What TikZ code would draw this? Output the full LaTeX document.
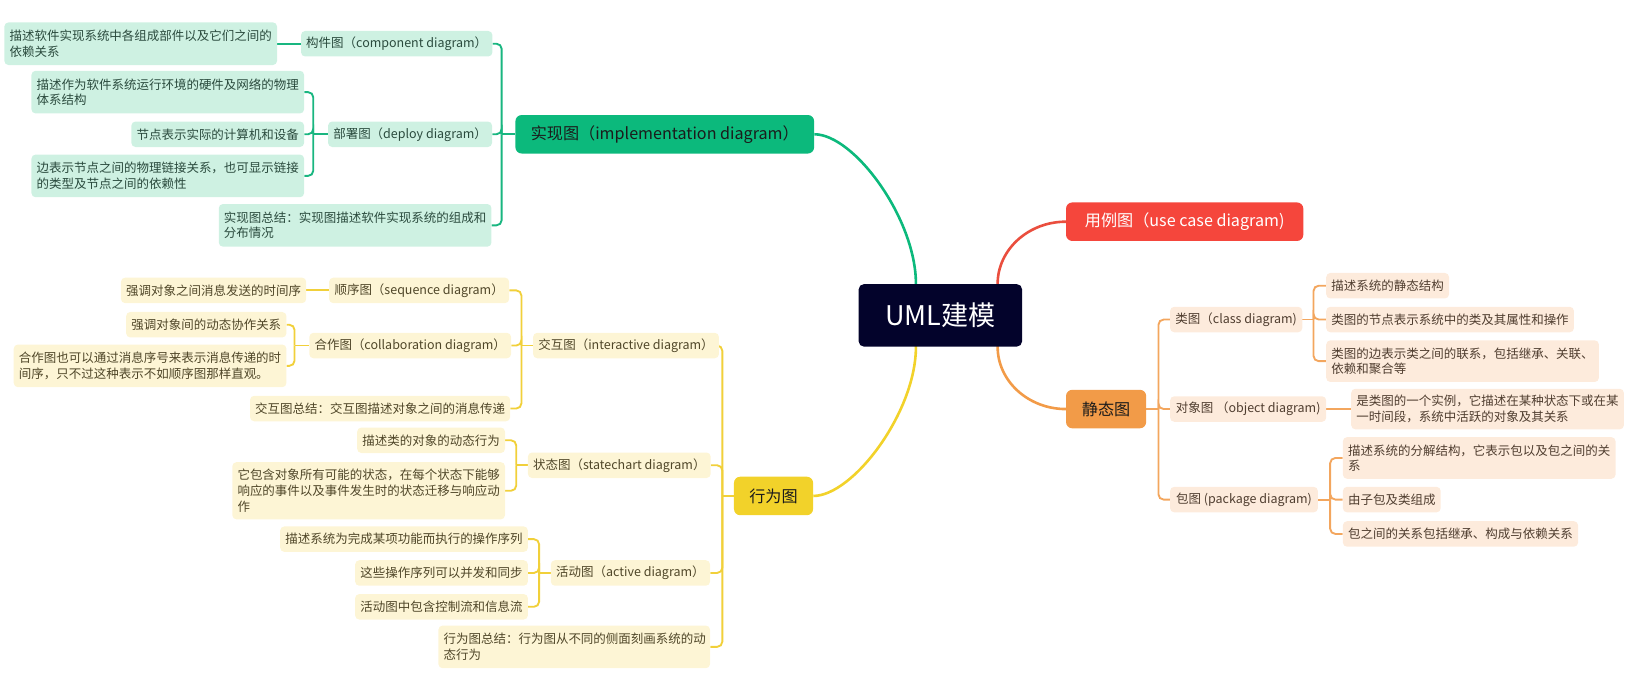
\documentclass[tikz,border=0pt]{standalone}
\usepackage{fontspec}
\setmainfont{Noto Sans CJK SC}
\usetikzlibrary{calc}
\pgfdeclarelayer{bg}
\pgfsetlayers{bg,main}
\definecolor{rootc}{HTML}{03032B}
\definecolor{dk}{HTML}{1B1B1B}
\definecolor{gmain}{HTML}{0CB97C}
\definecolor{gline}{HTML}{19B680}
\definecolor{gfill}{HTML}{CEF1E2}
\definecolor{gtext}{HTML}{2A4A3D}
\definecolor{rmain}{HTML}{F5463C}
\definecolor{rline}{HTML}{EA4E3E}
\definecolor{omain}{HTML}{F29B48}
\definecolor{oline}{HTML}{F3A65E}
\definecolor{ofill}{HTML}{FDEBDC}
\definecolor{otext}{HTML}{4F3D2F}
\definecolor{ymain}{HTML}{F2D22A}
\definecolor{yline}{HTML}{F1D03A}
\definecolor{yfill}{HTML}{FDF5D5}
\definecolor{ytext}{HTML}{4F4628}
\newcommand\fsc{\fontsize{12}{15}\selectfont}
\newcommand\fsm{\fontsize{15.5}{18}\selectfont}
\newcommand\fsr{\fontsize{26}{30}\selectfont}
\begin{document}
\begin{tikzpicture}[x=1pt,y=-1pt,
  kid/.style={rounded corners=4pt, inner xsep=5pt, inner ysep=0pt, minimum height=24.5pt, anchor=west, font=\fsc},
  gk/.style={kid, fill=gfill, text=gtext},
  yk/.style={kid, fill=yfill, text=ytext},
  ok/.style={kid, fill=ofill, text=otext},
  wide/.style={text width=#1, align=left},
  mainbox/.style={rounded corners=6pt, inner sep=0pt, minimum height=37pt, font=\fsm, anchor=west},
  gl/.style={draw=gline, line width=1.8pt, rounded corners=5pt},
  yl/.style={draw=yline, line width=1.8pt, rounded corners=5pt},
  ol/.style={draw=oline, line width=1.8pt, rounded corners=5pt},
  curve/.style={line width=2.5pt}
]
\useasboundingbox (0,0) rectangle (1568,665);

% root
\node[fill=rootc, text=white, font=\fsr, rounded corners=5pt, minimum width=157pt, minimum height=60pt, inner sep=0pt] (root) at (903.5,303) {UML建模};

% level 1
\node[mainbox, fill=gmain, text=dk, minimum width=287pt] (impl) at (495,129) {实现图（implementation diagram）};
\node[mainbox, fill=rmain, text=white, minimum width=228pt] (uc) at (1024,213) {用例图（use case diagram)};
\node[mainbox, fill=omain, text=dk, minimum width=77pt] (stat) at (1024,393) {静态图};
\node[mainbox, fill=ymain, text=dk, minimum width=76pt] (beh) at (705,476.5) {行为图};

% green
\node[gk, minimum width=183pt] (comp) at (289,42) {构件图（component diagram）};
\node[gk, wide=252pt, minimum height=41pt] (comp1) at (4,42) {描述软件实现系统中各组成部件以及它们之间的\\依赖关系};
\node[gk, minimum width=157pt] (dep) at (315,129) {部署图（deploy diagram）};
\node[gk, wide=252pt, minimum height=41pt] (dep1) at (30,88.5) {描述作为软件系统运行环境的硬件及网络的物理\\体系结构};
\node[gk, minimum width=165pt] (dep2) at (126,129) {节点表示实际的计算机和设备};
\node[gk, wide=252pt, minimum height=41pt] (dep3) at (30,169) {边表示节点之间的物理链接关系，也可显示链接\\的类型及节点之间的依赖性};
\node[gk, wide=252pt, minimum height=41pt] (isum) at (210,216.5) {实现图总结：实现图描述软件实现系统的组成和\\分布情况};

% yellow
\node[yk, minimum width=170pt] (inter) at (512,332) {交互图（interactive diagram）};
\node[yk, minimum width=173pt] (seq) at (316,279) {顺序图（sequence diagram）};
\node[yk, minimum width=177pt] (seq1) at (116,279) {强调对象之间消息发送的时间序};
\node[yk, minimum width=192pt] (col) at (297,332) {合作图（collaboration diagram）};
\node[yk, minimum width=153pt] (col1) at (121,312) {强调对象间的动态协作关系};
\node[yk, wide=252pt, minimum height=41pt] (col2) at (13,351.5) {合作图也可以通过消息序号来表示消息传递的时\\间序，只不过这种表示不如顺序图那样直观。};
\node[yk, minimum width=249pt] (isum2) at (240,392.5) {交互图总结：交互图描述对象之间的消息传递};
\node[yk, minimum width=175pt] (state) at (507,447) {状态图（statechart diagram）};
\node[yk, minimum width=140pt] (st1) at (343,423) {描述类的对象的动态行为};
\node[yk, wide=252pt, minimum height=55pt] (st2) at (223,471.5) {它包含对象所有可能的状态，在每个状态下能够\\响应的事件以及事件发生时的状态迁移与响应动\\作};
\node[yk, minimum width=153pt] (act) at (529,550.5) {活动图（active diagram）};
\node[yk, minimum width=237pt] (ac1) at (269,518) {描述系统为完成某项功能而执行的操作序列};
\node[yk, minimum width=165pt] (ac2) at (341,550.5) {这些操作序列可以并发和同步};
\node[yk, minimum width=165pt] (ac3) at (341,583) {活动图中包含控制流和信息流};
\node[yk, wide=251pt, minimum height=41pt] (bsum) at (421,621.5) {行为图总结：行为图从不同的侧面刻画系统的动\\态行为};

% orange
\node[ok, minimum width=127pt] (cls) at (1124,307) {类图（class diagram)};
\node[ok, minimum width=118pt] (cl1) at (1274,274.5) {描述系统的静态结构};
\node[ok, minimum width=238pt] (cl2) at (1274,307) {类图的节点表示系统中的类及其属性和操作};
\node[ok, wide=252pt, minimum height=40pt] (cl3) at (1274,347) {类图的边表示类之间的联系，包括继承、关联、\\依赖和聚合等};
\node[ok, minimum width=150pt] (obj) at (1124,393) {对象图 （object diagram)};
\node[ok, wide=252pt, minimum height=39pt] (ob1) at (1298,393) {是类图的一个实例，它描述在某种状态下或在某\\一时间段，系统中活跃的对象及其关系};
\node[ok, minimum width=142pt] (pkg) at (1124,480) {包图 (package diagram)};
\node[ok, wide=252pt, minimum height=40pt] (pk1) at (1290,440) {描述系统的分解结构，它表示包以及包之间的关\\系};
\node[ok, minimum width=93pt] (pk2) at (1290,480) {由子包及类组成};
\node[ok, minimum width=225pt] (pk3) at (1290,513) {包之间的关系包括继承、构成与依赖关系};

\begin{pgfonlayer}{bg}
% main curves
\draw[curve, gmain] (impl.east) .. controls +(38,0) and +(0,-63) .. ($(root.north)+(-23.5,0)$) -- ($(root.north)+(-23.5,10)$);
\draw[curve, ymain] (beh.east) .. controls +(38,0) and +(0,63) .. ($(root.south)+(-23.5,0)$) -- ($(root.south)+(-23.5,-10)$);
\draw[curve, rline] ($(root.north)+(55,10)$) -- ($(root.north)+(55,0)$) .. controls +(0,-33) and +(-36,0) .. (uc.west);
\draw[curve, omain] ($(root.south)+(55,-10)$) -- ($(root.south)+(55,0)$) .. controls +(0,33) and +(-36,0) .. (stat.west);

% green brackets
\coordinate (bI) at (482,129);
\draw[gl] (impl.west) -- (bI);
\foreach \n in {comp,dep,isum} \draw[gl] (\n.east) -| (bI);
\draw[gl] (comp1.east) -- (comp.west);
\coordinate (bD) at (301,129);
\draw[gl] (dep.west) -- (bD);
\foreach \n in {dep1,dep2,dep3} \draw[gl] (\n.east) -| (bD);

% yellow brackets
\coordinate (bB) at (694,476.5);
\draw[yl] (beh.west) -- (bB);
\foreach \n in {inter,state,act,bsum} \draw[yl] (\n.east) -| (bB);
\coordinate (bX) at (501,332);
\draw[yl] (inter.west) -- (bX);
\foreach \n in {seq,col,isum2} \draw[yl] (\n.east) -| (bX);
\draw[yl] (seq1.east) -- (seq.west);
\coordinate (bCo) at (283,332);
\draw[yl] (col.west) -- (bCo);
\foreach \n in {col1,col2} \draw[yl] (\n.east) -| (bCo);
\coordinate (bS) at (496,447);
\draw[yl] (state.west) -- (bS);
\foreach \n in {st1,st2} \draw[yl] (\n.east) -| (bS);
\coordinate (bA) at (518,550.5);
\draw[yl] (act.west) -- (bA);
\foreach \n in {ac1,ac2,ac3} \draw[yl] (\n.east) -| (bA);

% orange brackets
\coordinate (bO) at (1113,393);
\draw[ol] (stat.east) -- (bO);
\foreach \n in {cls,obj,pkg} \draw[ol] (\n.west) -| (bO);
\coordinate (bCl) at (1262,307);
\draw[ol] (cls.east) -- (bCl);
\foreach \n in {cl1,cl2,cl3} \draw[ol] (\n.west) -| (bCl);
\draw[ol] (obj.east) -- (ob1.west);
\coordinate (bP) at (1278,480);
\draw[ol] (pkg.east) -- (bP);
\foreach \n in {pk1,pk2,pk3} \draw[ol] (\n.west) -| (bP);
\end{pgfonlayer}
\end{tikzpicture}
\end{document}
